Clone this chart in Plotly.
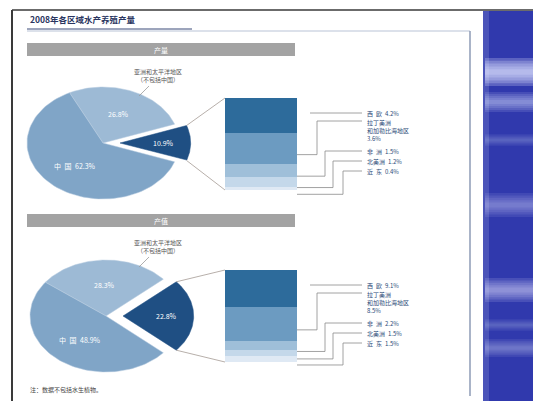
import numpy as np
import plotly.graph_objects as go

# ---- data -------------------------------------------------------------
title_text = "2008年各区域水产养殖产量"
panel_titles = ["产量", "产值"]
pie_callout = "亚洲和太平洋地区<br>（不包括中国）"
china_label = "中\u2002国"

# pie shares: [other regions, Asia-Pacific excl. China, China]
qty_pie = [10.9, 26.8, 62.3]
val_pie = [22.8, 28.3, 48.9]

region_names = ["西\u2002欧", "拉丁美洲<br>和加勒比海地区", "非\u2002洲", "北美洲", "近\u2002东"]
qty_regions = [4.2, 3.6, 1.5, 1.2, 0.4]
val_regions = [9.1, 8.5, 2.2, 1.5, 1.5]

footnote = "注：数据不包括水生植物。"

# ---- styling ------------------------------------------------------------
FONT = "Noto Sans CJK SC"
C_CHINA = "#80a5c7"
C_AP = "#9dbad5"
C_OTHER = "#1f4f83"
SEG_COLORS = ["#2d6b9b", "#6c9bc1", "#9fbfd9", "#c4d8ea", "#dfe9f4"]
LABEL_COLOR = "#2b4a78"
LEADER = "#8a8a8a"

panels = [
    dict(title=panel_titles[0], pie=qty_pie, regions=qty_regions,
         cx=103, cy=143, head_y=(43, 56), bar_top=98, callout_y=75),
    dict(title=panel_titles[1], pie=val_pie, regions=val_regions,
         cx=106, cy=316, head_y=(214, 227), bar_top=270, callout_y=246),
]
RX, RY = 76, 56
EXPLODE = 17
DARK_R = 0.93
BAR_X0, BAR_X1 = 225, 297
BAR_H = 92
LABEL_X = 365
LABEL_DY = [15, 27, 53, 63, 73]
STEP_X = [None, 317, 325, 333, 343]

fig = go.Figure()
shapes = []
annotations = []


def sector(cx, cy, a0, a1, r=1.0):
    t = np.radians(np.linspace(a0, a1, 80))
    xs = np.concatenate([[cx], cx + r * RX * np.cos(t), [cx]])
    ys = np.concatenate([[cy], cy - r * RY * np.sin(t), [cy]])
    return xs, ys


for p in panels:
    other, ap, china = p["pie"]
    cx, cy = p["cx"], p["cy"]
    half = other * 3.6 / 2
    a_ap_end = half + ap * 3.6

    # main pie slices
    for (a0, a1, col) in [(half, a_ap_end, C_AP), (a_ap_end, 360 - half, C_CHINA)]:
        xs, ys = sector(cx, cy, a0, a1)
        fig.add_trace(go.Scatter(x=xs, y=ys, mode="lines", fill="toself",
                                 fillcolor=col, line=dict(color="#b8cde0", width=0.5),
                                 hoverinfo="skip", showlegend=False))
    # exploded slice
    dx = cx + EXPLODE
    xs, ys = sector(dx, cy, -half, half, DARK_R)
    fig.add_trace(go.Scatter(x=xs, y=ys, mode="lines", fill="toself",
                             fillcolor=C_OTHER, line=dict(color=C_OTHER, width=0.5),
                             hoverinfo="skip", showlegend=False))

    # slice labels
    mid_ap = np.radians((half + a_ap_end) / 2)
    mid_ch = np.radians((a_ap_end + 360 - half) / 2)
    annotations += [
        dict(x=cx + 0.55 * RX * np.cos(mid_ap), y=cy - 0.55 * RY * np.sin(mid_ap),
             text=f"{ap:.1f}%", font=dict(size=7, color="white")),
        dict(x=cx + 0.55 * RX * np.cos(mid_ch), y=cy - 0.55 * RY * np.sin(mid_ch),
             text=f"{china_label}\u2002{china:.1f}%", font=dict(size=7, color="white")),
        dict(x=dx + 0.62 * DARK_R * RX, y=cy,
             text=f"{other:.1f}%", font=dict(size=7, color="white")),
    ]

    # callout for the Asia-Pacific slice
    annotations.append(dict(x=158, y=p["callout_y"], text=pie_callout,
                            font=dict(size=6, color="#555555"),
                            align="center"))
    shapes.append(dict(type="line", x0=149, y0=p["callout_y"] + 11,
                       x1=139, y1=p["callout_y"] + 21,
                       line=dict(color="#9a9a9a", width=0.8)))

    # connectors from the exploded slice to the bar
    top = p["bar_top"]
    for sgn, by in [(1, top), (-1, top + BAR_H)]:
        ang = np.radians(sgn * half)
        ex = dx + DARK_R * RX * np.cos(ang)
        ey = cy - DARK_R * RY * np.sin(ang)
        fig.add_trace(go.Scatter(x=[ex, BAR_X0], y=[ey, by], mode="lines",
                                 line=dict(color="#a49a94", width=0.8),
                                 hoverinfo="skip", showlegend=False))

    # stacked bar of the breakdown
    regs = p["regions"]
    total = sum(regs)
    heights = [v / total * BAR_H for v in regs]
    bases = list(top + np.concatenate([[0], np.cumsum(heights)[:-1]]))
    for i, (h, b) in enumerate(zip(heights, bases)):
        fig.add_trace(go.Bar(x=[(BAR_X0 + BAR_X1) / 2], y=[h], base=[b],
                             width=[BAR_X1 - BAR_X0], marker_color=SEG_COLORS[i],
                             marker_line_width=0, hoverinfo="skip",
                             showlegend=False))

    # leader lines and labels
    for i, (name, v) in enumerate(zip(region_names, regs)):
        ly = top + LABEL_DY[i]
        seg_mid = bases[i] + heights[i] / 2
        if STEP_X[i] is None:
            lx, lyy = [310, LABEL_X - 3], [ly, ly]
        else:
            lyl = ly if i != 1 else ly - 4
            lx = [BAR_X1, STEP_X[i], STEP_X[i], LABEL_X - 3]
            lyy = [seg_mid + 6, seg_mid + 6, lyl, lyl]
        fig.add_trace(go.Scatter(x=lx, y=lyy, mode="lines",
                                 line=dict(color=LEADER, width=0.8),
                                 hoverinfo="skip", showlegend=False))
        if i == 1:
            annotations.append(dict(x=LABEL_X, y=ly - 9, xanchor="left", yanchor="top",
                                    text=f"{name}<br>{v:.1f}%", align="left",
                                    font=dict(size=6, color=LABEL_COLOR)))
        else:
            annotations.append(dict(x=LABEL_X, y=ly, xanchor="left", yanchor="middle",
                                    text=f"{name}\u2002{v:.1f}%",
                                    font=dict(size=6, color=LABEL_COLOR)))

    # panel header
    y0, y1 = p["head_y"]
    shapes.append(dict(type="rect", x0=27, x1=295, y0=y0, y1=y1,
                       fillcolor="#a3a3a3", line=dict(width=0), layer="below"))
    annotations.append(dict(x=161, y=(y0 + y1) / 2, text=p["title"],
                            font=dict(size=7, color="white")))

# ---- slide frame --------------------------------------------------------
shapes += [
    dict(type="line", x0=12, x1=12, y0=10, y1=401, line=dict(color="#3a3a3a", width=2)),
    dict(type="line", x0=12, x1=533, y0=10, y1=10, line=dict(color="#3a3a3a", width=1.5)),
    dict(type="line", x0=27, x1=470, y0=31, y1=31, line=dict(color="#b9c3d6", width=1)),
    dict(type="line", x0=27, x1=192, y0=29, y1=29, line=dict(color="#3b4a78", width=1)),
    dict(type="line", x0=470, x1=470, y0=31, y1=396, line=dict(color="#8e9bb6", width=1.5)),
    dict(type="rect", x0=483, x1=533, y0=11, y1=401, fillcolor="#3039ad",
         line=dict(width=0), layer="below"),
    dict(type="rect", x0=483, x1=489, y0=11, y1=401, fillcolor="rgba(140,150,215,0.3)",
         line=dict(width=0), layer="below"),
]
# soft light streaks across the side band: (centre, half-height, strength)
streaks = [(72, 14, 0.9), (102, 10, 0.45), (140, 6, 0.2), (205, 12, 0.35),
           (290, 12, 0.5), (325, 6, 0.2), (348, 9, 0.3)]
for yc, hh, s in streaks:
    for k in range(5):
        f = 1 - k / 5
        shapes.append(dict(type="rect", x0=485, x1=533,
                           y0=yc - hh * f, y1=yc + hh * f,
                           fillcolor=f"rgba(225,228,255,{0.28 * s:.3f})",
                           line=dict(width=0), layer="below"))

annotations += [
    dict(x=28, y=19, xanchor="left", yanchor="middle", text=f"<b>{title_text}</b>",
         font=dict(size=8.5, color="#2a3560")),
    dict(x=28, y=389, xanchor="left", yanchor="middle", text=footnote,
         font=dict(size=6, color="#444444")),
]
for a in annotations:
    a.setdefault("showarrow", False)
    a["font"]["family"] = FONT

fig.update_layout(
    width=533, height=401,
    margin=dict(l=0, r=0, t=0, b=0),
    paper_bgcolor="white", plot_bgcolor="white",
    xaxis=dict(range=[0, 533], visible=False, fixedrange=True),
    yaxis=dict(range=[401, 0], visible=False, fixedrange=True),
    barmode="overlay", bargap=0,
    shapes=shapes, annotations=annotations,
    font=dict(family=FONT),
)
fig.write_html("out.html", config={"displayModeBar": False})
